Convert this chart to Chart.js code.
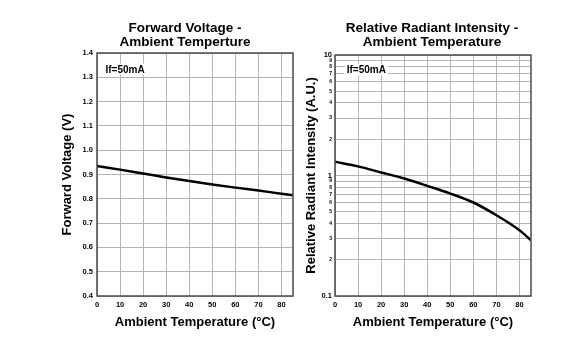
<!DOCTYPE html>
<html><head><meta charset="utf-8">
<script src="https://cdn.jsdelivr.net/npm/chart.js@4/dist/chart.umd.min.js"></script>
<style>
html,body{margin:0;padding:0;background:#fff;}
#wrap{position:relative;width:566px;height:357px;overflow:hidden;}
#c1{position:absolute;left:0;top:0;}
#c2{position:absolute;left:300px;top:0;}
</style></head><body>
<div id="wrap"><canvas id="c1" width="300" height="357"></canvas><canvas id="c2" width="266" height="357"></canvas></div>
<script>
// ---- data ----
const temperatureC = [0, 10, 20, 30, 40, 50, 60, 70, 80, 85];
const forwardVoltage = [0.935, 0.920, 0.904, 0.888, 0.873, 0.859, 0.846, 0.834, 0.821, 0.815];
const radiantIntensity = [1.30, 1.19, 1.06, 0.944, 0.82, 0.708, 0.597, 0.468, 0.351, 0.29];
const xTickValues = [0, 10, 20, 30, 40, 50, 60, 70, 80];
const vfTickValues = [0.4, 0.5, 0.6, 0.7, 0.8, 0.9, 1.0, 1.1, 1.2, 1.3, 1.4];
const vfTickLabels = ['0.4','0.5','0.6','0.7','0.8','0.9','1.0','1.1','1.2','1.3','1.4'];
const intensityTickValues = [0.1,0.2,0.3,0.4,0.5,0.6,0.7,0.8,0.9,1,2,3,4,5,6,7,8,9,10];
const intensityTickLabels = ['0.1','2','3','4','5','6','7','8','9','1','2','3','4','5','6','7','8','9','10'];
const intensityMajor = ['0.1','1','10'];
const leftTitle = ['Forward Voltage -', 'Ambient Temperture'];
const rightTitle = ['Relative Radiant Intensity -', 'Ambient Temperature'];
const condition = 'If=50mA';

const FONT = "'Liberation Sans', Arial, sans-serif";
const GRID = '#b4b4b4';

function decorPlugin(titleLines, titleCx, annDx, annDy) {
  return {
    id: 'decor',
    beforeDatasetsDraw(chart) {
      const {ctx, chartArea: a} = chart;
      ctx.save();
      ctx.font = `bold 10px ${FONT}`;
      const w = ctx.measureText(condition).width;
      const x = a.left + annDx, y = a.top + annDy;
      ctx.fillStyle = '#fff';
      ctx.fillRect(x - 2, y - 9, w + 4, 11);
      ctx.fillStyle = '#000';
      ctx.textBaseline = 'alphabetic';
      ctx.fillText(condition, x, y);
      ctx.restore();
    },
    afterDraw(chart) {
      const {ctx, chartArea: a} = chart;
      ctx.save();
      ctx.strokeStyle = '#4a4a4a';
      ctx.lineWidth = 1.5;
      ctx.strokeRect(a.left, a.top, a.right - a.left, a.bottom - a.top);
      ctx.fillStyle = '#000';
      ctx.font = `bold 13.5px ${FONT}`;
      ctx.textAlign = 'center';
      ctx.textBaseline = 'alphabetic';
      ctx.fillText(titleLines[0], titleCx, 31.7);
      ctx.fillText(titleLines[1], titleCx, 46);
      ctx.restore();
    }
  };
}

function xScale() {
  return {
    type: 'linear', min: 0, max: 85,
    afterBuildTicks(s) { s.ticks = xTickValues.map(v => ({value: v})); },
    afterFit(s) { s.height = 61; },
    grid: { color: GRID, lineWidth: 1, drawTicks: false },
    border: { display: false },
    ticks: { color: '#000', padding: 4, font: { family: FONT, size: 7.5, weight: 'bold' }, callback: v => String(v) },
    title: { display: true, text: 'Ambient Temperature (°C)', color: '#000',
      font: { family: FONT, size: 13, weight: 'bold' }, padding: { top: 0, bottom: 27 } }
  };
}

new Chart(document.getElementById('c1'), {
  type: 'line',
  data: { datasets: [{ data: temperatureC.map((t, i) => ({x: t, y: forwardVoltage[i]})),
    borderColor: '#000', borderWidth: 2.5, pointRadius: 0, tension: 0.4, cubicInterpolationMode: 'monotone' }] },
  options: {
    responsive: false, animation: false, devicePixelRatio: 1,
    layout: { padding: { left: 0, top: 53, right: 7, bottom: 0 } },
    plugins: { legend: { display: false }, tooltip: { enabled: false } },
    scales: {
      x: xScale(),
      y: {
        type: 'linear', min: 0.4, max: 1.4,
        afterBuildTicks(s) { s.ticks = vfTickValues.map(v => ({value: v})); },
        afterFit(s) { s.width = 97; },
        grid: { color: GRID, lineWidth: 1, drawTicks: false },
        border: { display: false },
        ticks: { color: '#000', padding: 4, font: { family: FONT, size: 7.5, weight: 'bold' },
          callback: (v, i) => vfTickLabels[i] },
        title: { display: true, text: 'Forward Voltage (V)', color: '#000',
          font: { family: FONT, size: 13, weight: 'bold' }, padding: { top: 60, bottom: 0 } }
      }
    }
  },
  plugins: [decorPlugin(leftTitle, 185, 8.5, 19.5)]
});

new Chart(document.getElementById('c2'), {
  type: 'line',
  data: { datasets: [{ data: temperatureC.map((t, i) => ({x: t, y: radiantIntensity[i]})),
    borderColor: '#000', borderWidth: 2.5, pointRadius: 0, tension: 0.4, cubicInterpolationMode: 'monotone' }] },
  options: {
    responsive: false, animation: false, devicePixelRatio: 1,
    layout: { padding: { left: 0, top: 55, right: 35, bottom: 0 } },
    plugins: { legend: { display: false }, tooltip: { enabled: false } },
    scales: {
      x: xScale(),
      y: {
        type: 'logarithmic', min: 0.1, max: 10,
        afterBuildTicks(s) { s.ticks = intensityTickValues.map(v => ({value: v})); },
        afterFit(s) { s.width = 35; },
        grid: { color: GRID, lineWidth: 1, drawTicks: false },
        border: { display: false },
        ticks: { color: '#000', padding: 3, autoSkip: false,
          font: (c) => ({ family: FONT, weight: 'bold',
            size: intensityMajor.includes(intensityTickLabels[c.index]) && (c.index === 0 || c.index === 9 || c.index === 18) ? 7.5 : 5 }),
          callback: (v, i) => intensityTickLabels[i] },
        title: { display: true, text: 'Relative Radiant Intensity (A.U.)', color: '#000',
          font: { family: FONT, size: 13, weight: 'bold' }, padding: { top: 4, bottom: 0 } }
      }
    }
  },
  plugins: [decorPlugin(rightTitle, 132, 11.7, 18.3)]
});
</script>
</body></html>
